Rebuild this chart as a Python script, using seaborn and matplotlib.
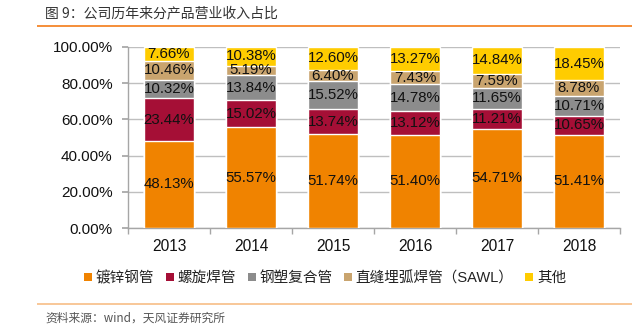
import matplotlib
matplotlib.use("Agg")
import matplotlib.pyplot as plt
import seaborn as sns
import numpy as np
import pandas as pd
from matplotlib.ticker import FuncFormatter
from matplotlib.patches import Patch, Rectangle

years = ["2013", "2014", "2015", "2016", "2017", "2018"]
series_names = ["镀锌钢管", "螺旋焊管", "钢塑复合管", "直缝埋弧焊管（SAWL）", "其他"]
galvanized = [48.13, 55.57, 51.74, 51.40, 54.71, 51.41]
spiral = [23.44, 15.02, 13.74, 13.12, 11.21, 10.65]
steel_plastic = [10.32, 13.84, 15.52, 14.78, 11.65, 10.71]
sawl = [10.46, 5.19, 6.40, 7.43, 7.59, 8.78]
other = [7.66, 10.38, 12.60, 13.27, 14.84, 18.45]
colors = ["#F08300", "#A50F36", "#8C8C8C", "#C9A46E", "#FFCC00"]

sns.set_theme(style="white")
plt.rcParams['font.family'] = ['Liberation Sans', 'Noto Sans CJK SC', 'DejaVu Sans']

fig = plt.figure(figsize=(6.32, 3.29), dpi=100)
ax = fig.add_axes([128/632, 1-228/329, (620-128)/632, (228-47)/329])

data = [galvanized, spiral, steel_plastic, sawl, other]
vals = np.array(data) / 100.0
cums = np.cumsum(vals, axis=0)
df = pd.DataFrame({"year": years})
for i in range(len(series_names)):
    df[f"c{i}"] = cums[i]

for i in reversed(range(len(series_names))):
    sns.barplot(data=df, x="year", y=f"c{i}", color=colors[i], width=0.61,
                saturation=1, ax=ax, zorder=3)

for i in range(len(series_names)):
    for j in range(len(years)):
        ax.text(j, cums[i, j] - vals[i, j] / 2, f"{data[i][j]:.2f}%",
                ha="center", va="center", fontsize=10.8, color="#111111",
                family="Liberation Sans", zorder=5)

ax.set_ylim(0, 1.0)
ax.set_xlim(-0.5, 5.5)
ax.set_yticks(np.linspace(0, 1, 6))
ax.yaxis.set_major_formatter(FuncFormatter(lambda v, p: f"{v*100:.2f}%"))
ax.set_xlabel("")
ax.set_ylabel("")
ax.grid(axis="y", color="#BFBFBF", linewidth=1, zorder=0)
ax.set_axisbelow(True)
for s in ["top", "right"]:
    ax.spines[s].set_visible(False)
for s in ["left", "bottom"]:
    ax.spines[s].set_color("#A6A6A6")
    ax.spines[s].set_linewidth(1)
ax.tick_params(axis="y", left=True, length=4, color="#A6A6A6", labelsize=11,
               labelcolor="#111111", pad=7)
ax.tick_params(axis="x", which="major", length=0, labelsize=11.2,
               labelcolor="#111111", pad=8)
ax.set_xticks(np.arange(-0.5, 6, 1.0), minor=True)
ax.tick_params(axis="x", which="minor", bottom=True, length=4, color="#A6A6A6")
for lab in ax.get_yticklabels() + ax.get_xticklabels():
    lab.set_family("Liberation Sans")

handles = [Patch(facecolor=c, edgecolor="none") for c in colors]
leg = fig.legend(handles, series_names, loc="center", bbox_to_anchor=(325/632, 1-278/329),
                 ncol=5, frameon=False, handlelength=0.55, handleheight=0.55,
                 handletextpad=0.25, columnspacing=0.8,
                 prop={"family": ["Liberation Sans", "Noto Sans CJK SC"], "size": 10.5})
for t in leg.get_texts():
    t.set_color("#222222")

fig.text(45/632, 1-13/329, "图 9：公司历年来分产品营业收入占比", fontsize=10, color="#333333",
         ha="left", va="center", family=["Noto Sans CJK SC", "DejaVu Sans"])
# header rule and footer rule (figure-level decorations)
fig.add_artist(Rectangle((37/632, 1-27/329), 1 - 37/632, 1.8/329, transform=fig.transFigure,
                         facecolor="#F5913E", edgecolor="none", zorder=10))
fig.add_artist(Rectangle((37/632, 1-305/329), 1 - 37/632, 2.2/329, transform=fig.transFigure,
                         facecolor="#F8C89A", edgecolor="none", zorder=10))
fig.text(45/632, 1-318/329, "资料来源：wind，天风证券研究所", fontsize=8.5, color="#555555",
         ha="left", va="center", family=["Noto Sans CJK SC", "DejaVu Sans"])

fig.savefig("out.png", dpi=100)
